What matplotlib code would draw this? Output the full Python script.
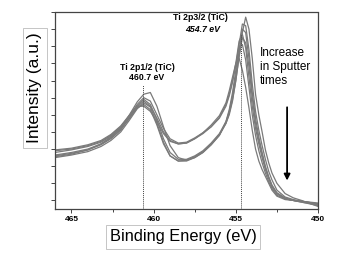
import matplotlib
matplotlib.use("Agg")
import matplotlib.pyplot as plt
from matplotlib.ticker import MultipleLocator, FixedLocator

plt.rcParams['font.family'] = ['Liberation Sans', 'DejaVu Sans']

# Binding energy grid (eV)
energy = [466, 465, 464, 463.2, 462.6, 462.0, 461.5, 461.0, 460.6, 460.2,
          459.8, 459.4, 459.0, 458.5, 458.0, 457.5, 457.0, 456.5, 456.0, 455.6,
          455.4, 455.2, 455.0, 454.8, 454.6, 454.4, 454.2, 454.0, 453.8, 453.6,
          453.4, 453.2, 453.0, 452.8, 452.5, 452.0, 451.5, 451.0, 450.0]

spec1 = [2.55, 2.7, 2.95, 3.3, 3.7, 4.25, 4.95, 5.75, 6.2, 6.3,
         5.5, 4.3, 3.2, 2.5, 2.35, 2.5, 2.8, 3.25, 3.8, 4.5,
         5.0, 5.8, 7.0, 8.4, 9.8, 10.7, 10.0, 8.3, 6.2, 5.0,
         4.0, 2.95, 2.2, 1.6, 1.0, 0.4, 0.15, 0.0, -0.35]
spec2 = [2.9, 3.0, 3.2, 3.45, 3.8, 4.3, 4.9, 5.6, 6.0, 5.8,
         5.0, 4.2, 3.6, 3.35, 3.4, 3.65, 3.95, 4.3, 4.8, 5.5,
         6.1, 6.9, 7.9, 9.1, 10.3, 10.2, 8.8, 6.8, 5.2, 4.1,
         3.2, 2.4, 1.7, 1.2, 0.6, 0.2, 0.05, -0.05, -0.2]
spec3 = [2.6, 2.75, 2.95, 3.25, 3.6, 4.1, 4.8, 5.5, 5.9, 5.6,
         4.7, 3.6, 2.8, 2.4, 2.4, 2.6, 2.9, 3.35, 3.9, 4.6,
         5.2, 6.1, 7.3, 8.7, 10.0, 9.8, 8.3, 6.3, 4.8, 3.7,
         2.8, 2.0, 1.4, 0.9, 0.45, 0.15, 0.0, -0.1, -0.3]
spec4 = [2.8, 2.95, 3.15, 3.4, 3.75, 4.2, 4.8, 5.45, 5.8, 5.5,
         4.8, 4.0, 3.5, 3.3, 3.35, 3.6, 3.9, 4.3, 4.85, 5.6,
         6.2, 7.0, 8.0, 9.3, 9.7, 8.9, 7.2, 5.5, 4.2, 3.3,
         2.5, 1.8, 1.3, 0.8, 0.4, 0.1, 0.0, -0.05, -0.2]
spec5 = [2.5, 2.65, 2.85, 3.15, 3.5, 4.0, 4.65, 5.35, 5.7, 5.45,
         4.5, 3.4, 2.6, 2.3, 2.35, 2.55, 2.85, 3.3, 3.85, 4.5,
         5.1, 5.9, 7.0, 8.4, 9.5, 9.2, 7.8, 6.0, 4.5, 3.5,
         2.7, 1.9, 1.3, 0.85, 0.4, 0.1, 0.0, -0.1, -0.25]
spec6 = [2.65, 2.8, 3.0, 3.3, 3.65, 4.15, 4.75, 5.4, 5.6, 5.3,
         4.4, 3.3, 2.6, 2.3, 2.3, 2.5, 2.8, 3.25, 3.8, 4.6,
         5.3, 6.3, 7.6, 9.0, 9.1, 8.2, 6.6, 5.0, 3.8, 2.9,
         2.2, 1.6, 1.1, 0.7, 0.3, 0.1, 0.0, -0.05, -0.2]
spec7 = [2.95, 3.05, 3.25, 3.5, 3.85, 4.35, 4.95, 5.5, 5.5, 5.2,
         4.6, 3.9, 3.45, 3.3, 3.35, 3.6, 3.95, 4.4, 4.95, 5.7,
         6.4, 7.2, 8.0, 8.3, 7.6, 6.6, 5.4, 4.1, 3.0, 2.3,
         1.8, 1.4, 1.0, 0.6, 0.25, 0.05, 0.0, -0.05, -0.15]
spectra = [spec1, spec2, spec3, spec4, spec5, spec6, spec7]

x_ticks = [465, 460, 455, 450]
x_tick_labels = ["465", "460", "455", "450"]
peak_positions = [460.63, 454.68]

W, H = 358, 260
fig = plt.figure(figsize=(W / 100, H / 100), dpi=100)
L, R, T, B = 55, 318, 12, 209
ax = fig.add_axes([L / W, 1 - B / H, (R - L) / W, (B - T) / H])

for s in spectra:
    ax.plot(energy, s, color='#7a7a7a', lw=0.9)

ax.set_xlim(466, 450)
ax.set_ylim(-0.5, 11.0)

# vertical reference lines
ax.plot([peak_positions[0]] * 2, [-0.5, 6.75], color='#444444', lw=0.7, ls=(0, (1, 1)))
ax.plot([peak_positions[1]] * 2, [-0.5, 9.7], color='#444444', lw=0.7, ls=(0, (1, 1)))

for sp in ax.spines.values():
    sp.set_linestyle((0, (1, 1)))
    sp.set_color('#444444')
    sp.set_linewidth(0.9)

ax.xaxis.set_major_locator(FixedLocator(x_ticks))
ax.set_xticklabels(x_tick_labels, fontsize=6, fontweight='bold')
ax.xaxis.set_minor_locator(FixedLocator([462.5, 457.5, 452.5]))
ax.yaxis.set_major_locator(MultipleLocator(1))
ax.set_yticklabels([])
ax.tick_params(axis='both', which='major', length=3, width=0.7, color='#444444', pad=2)
ax.tick_params(axis='x', which='minor', length=2, width=0.7, color='#444444')

def ftx(px, py):
    return px / W, 1 - py / H

box = dict(boxstyle='square,pad=0.25', facecolor='white', edgecolor='#bbbbbb', lw=0.6)
fig.text(*ftx(35, 88), "Intensity (a.u.)", rotation=90, fontsize=12.5,
         ha='center', va='center', bbox=box)
fig.text(*ftx(183, 237), "Binding Energy (eV)", fontsize=11.8,
         ha='center', va='center', bbox=box)

fig.text(*ftx(200, 18), "Ti 2p3/2 (TiC)", fontsize=6.3, fontweight='bold', ha='center', va='center')
fig.text(*ftx(203, 29), "454.7 eV", fontsize=6.3, fontweight='bold', style='italic', ha='center', va='center')
fig.text(*ftx(147, 67), "Ti 2p1/2 (TiC)", fontsize=6.3, fontweight='bold', ha='center', va='center')
fig.text(*ftx(147, 78), "460.7 eV", fontsize=6.3, fontweight='bold', ha='center', va='center')
fig.text(*ftx(260, 67), "Increase\nin Sputter\ntimes", fontsize=8.5, ha='left', va='center',
         linespacing=1.22)

ax.annotate("", xy=(451.88, 1.0), xytext=(451.88, 5.6),
            arrowprops=dict(arrowstyle='-|>', color='black', lw=1.3, mutation_scale=9))

fig.savefig("out.png", dpi=100)
